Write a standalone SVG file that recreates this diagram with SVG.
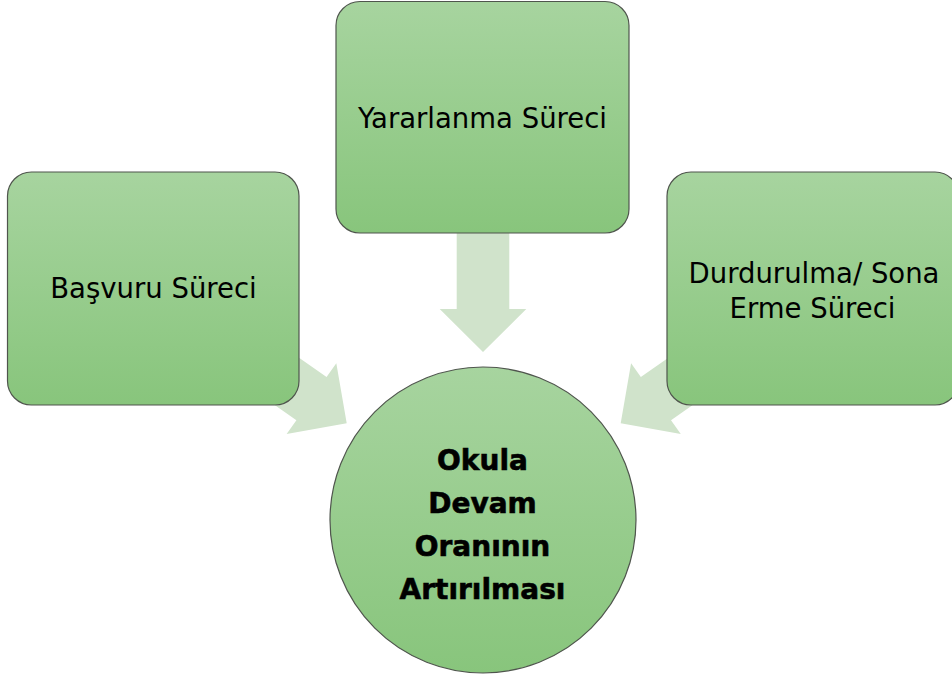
<svg xmlns="http://www.w3.org/2000/svg" width="952" height="677" viewBox="0 0 952 677">
<defs>
<linearGradient id="g" x1="0" y1="0" x2="0" y2="1">
<stop offset="0" stop-color="#a7d49f"/>
<stop offset="1" stop-color="#88c57c"/>
</linearGradient>
<polygon id="arr" points="0,0 -43,-43.3 -43,-26.3 -150,-26.3 -150,26.3 -43,26.3 -43,43.3"/>
</defs>
<style>
.node{fill:url(#g);stroke:#4f554d;stroke-width:1.2}
.arrow{fill:#d0e3cb}
.t{font-family:"DejaVu Sans",Verdana,sans-serif;font-size:27.5px;fill:#000;text-anchor:middle}
.b{font-weight:bold;font-size:28px;stroke:#000;stroke-width:0.6}
</style>
<rect width="952" height="677" fill="#fff"/>
<g id="connectors">
<use href="#arr" class="arrow" transform="translate(483,352) rotate(90)"/>
<use href="#arr" class="arrow" transform="translate(346.7,423.3) rotate(35)"/>
<use href="#arr" class="arrow" transform="translate(620.7,423.3) rotate(145)"/>
</g>
<g id="basvuru">
<rect class="node" x="7.5" y="172" width="291.5" height="233" rx="24"/>
<text class="t" x="153.5" y="297.5">Başvuru Süreci</text>
</g>
<g id="yararlanma">
<rect class="node" x="336" y="1.5" width="293" height="231.5" rx="24"/>
<text class="t" x="482.5" y="127.5">Yararlanma Süreci</text>
</g>
<g id="durdurulma">
<rect class="node" x="667" y="172" width="292" height="233" rx="24"/>
<text class="t" x="814" y="283" font-size="28">Durdurulma/ Sona</text>
<text class="t" x="812.5" y="318">Erme Süreci</text>
</g>
<g id="okula">
<circle class="node" cx="483" cy="520" r="153"/>
<text class="t b" x="482.5" y="470">Okula</text>
<text class="t b" x="482.5" y="513">Devam</text>
<text class="t b" x="482.5" y="556">Oranının</text>
<text class="t b" x="482.5" y="599">Artırılması</text>
</g>
</svg>
